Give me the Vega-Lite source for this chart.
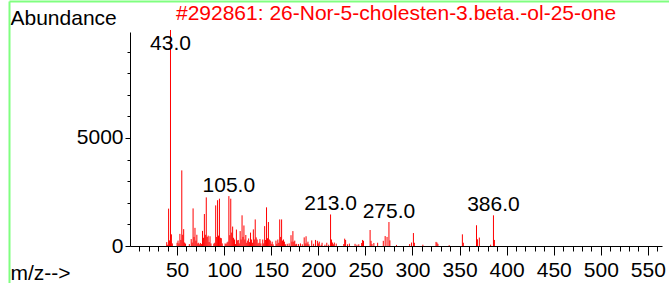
{
  "$schema": "https://vega.github.io/schema/vega-lite/v6.json",
  "width": 532,
  "height": 214,
  "autosize": {"type": "none"},
  "padding": {"left": 130, "top": 32, "right": 7, "bottom": 37},
  "background": "white",
  "config": {"view": {"stroke": null}, "font": "Liberation Sans"},
  "title": {"text": "#292861: 26-Nor-5-cholesten-3.beta.-ol-25-one", "color": "#ff0000", "fontSize": 21, "fontWeight": "normal", "anchor": "middle", "frame": "group", "baseline": "alphabetic", "offset": 8, "dy": 53},
  "data": {"values": [
    {"mz": 39, "ab": 180}, {"mz": 40, "ab": 60}, {"mz": 41, "ab": 1730}, {"mz": 42, "ab": 260}, {"mz": 43, "ab": 10000},
    {"mz": 44, "ab": 540}, {"mz": 45, "ab": 120}, {"mz": 50, "ab": 150}, {"mz": 51, "ab": 250}, {"mz": 52, "ab": 120},
    {"mz": 53, "ab": 560}, {"mz": 54, "ab": 280}, {"mz": 55, "ab": 3500}, {"mz": 56, "ab": 520}, {"mz": 57, "ab": 780},
    {"mz": 58, "ab": 160}, {"mz": 59, "ab": 110}, {"mz": 63, "ab": 90}, {"mz": 65, "ab": 320}, {"mz": 66, "ab": 160},
    {"mz": 67, "ab": 1740}, {"mz": 68, "ab": 420}, {"mz": 69, "ab": 840}, {"mz": 70, "ab": 250}, {"mz": 71, "ab": 520},
    {"mz": 72, "ab": 120}, {"mz": 73, "ab": 150}, {"mz": 74, "ab": 80}, {"mz": 75, "ab": 140}, {"mz": 76, "ab": 90},
    {"mz": 77, "ab": 700}, {"mz": 78, "ab": 380}, {"mz": 79, "ab": 1480}, {"mz": 80, "ab": 520}, {"mz": 81, "ab": 2250},
    {"mz": 82, "ab": 420}, {"mz": 83, "ab": 480}, {"mz": 84, "ab": 180}, {"mz": 85, "ab": 450}, {"mz": 86, "ab": 120},
    {"mz": 89, "ab": 110}, {"mz": 90, "ab": 150}, {"mz": 91, "ab": 1880}, {"mz": 92, "ab": 420}, {"mz": 93, "ab": 2120},
    {"mz": 94, "ab": 480}, {"mz": 95, "ab": 2190}, {"mz": 96, "ab": 380}, {"mz": 97, "ab": 360}, {"mz": 98, "ab": 120},
    {"mz": 101, "ab": 120}, {"mz": 102, "ab": 90}, {"mz": 103, "ab": 160}, {"mz": 104, "ab": 200}, {"mz": 105, "ab": 2310},
    {"mz": 106, "ab": 500}, {"mz": 107, "ab": 2190}, {"mz": 108, "ab": 620}, {"mz": 109, "ab": 900}, {"mz": 110, "ab": 380},
    {"mz": 111, "ab": 300}, {"mz": 112, "ab": 90}, {"mz": 113, "ab": 760}, {"mz": 114, "ab": 260}, {"mz": 115, "ab": 280},
    {"mz": 116, "ab": 120}, {"mz": 117, "ab": 690}, {"mz": 118, "ab": 300}, {"mz": 119, "ab": 1420}, {"mz": 120, "ab": 420},
    {"mz": 121, "ab": 950}, {"mz": 122, "ab": 300}, {"mz": 123, "ab": 510}, {"mz": 124, "ab": 150}, {"mz": 125, "ab": 250},
    {"mz": 126, "ab": 350}, {"mz": 127, "ab": 180}, {"mz": 128, "ab": 620}, {"mz": 129, "ab": 300}, {"mz": 130, "ab": 150},
    {"mz": 131, "ab": 770}, {"mz": 132, "ab": 300}, {"mz": 133, "ab": 1230}, {"mz": 134, "ab": 400}, {"mz": 135, "ab": 300},
    {"mz": 136, "ab": 120}, {"mz": 137, "ab": 150}, {"mz": 138, "ab": 320}, {"mz": 139, "ab": 120}, {"mz": 141, "ab": 300},
    {"mz": 142, "ab": 120}, {"mz": 143, "ab": 920}, {"mz": 144, "ab": 280}, {"mz": 145, "ab": 1790}, {"mz": 146, "ab": 360},
    {"mz": 147, "ab": 1110}, {"mz": 148, "ab": 300}, {"mz": 149, "ab": 250}, {"mz": 150, "ab": 100}, {"mz": 151, "ab": 200},
    {"mz": 152, "ab": 80}, {"mz": 155, "ab": 250}, {"mz": 156, "ab": 100}, {"mz": 157, "ab": 300}, {"mz": 158, "ab": 150},
    {"mz": 159, "ab": 1230}, {"mz": 160, "ab": 420}, {"mz": 161, "ab": 1230}, {"mz": 162, "ab": 250}, {"mz": 163, "ab": 300},
    {"mz": 164, "ab": 200}, {"mz": 165, "ab": 80}, {"mz": 167, "ab": 100}, {"mz": 169, "ab": 120}, {"mz": 171, "ab": 500},
    {"mz": 172, "ab": 200}, {"mz": 173, "ab": 690}, {"mz": 174, "ab": 200}, {"mz": 175, "ab": 250}, {"mz": 176, "ab": 80},
    {"mz": 177, "ab": 100}, {"mz": 179, "ab": 90}, {"mz": 181, "ab": 120}, {"mz": 183, "ab": 80}, {"mz": 185, "ab": 400},
    {"mz": 186, "ab": 120}, {"mz": 187, "ab": 450}, {"mz": 188, "ab": 120}, {"mz": 189, "ab": 200}, {"mz": 190, "ab": 80},
    {"mz": 193, "ab": 260}, {"mz": 195, "ab": 100}, {"mz": 197, "ab": 280}, {"mz": 199, "ab": 240}, {"mz": 200, "ab": 120},
    {"mz": 201, "ab": 200}, {"mz": 203, "ab": 60}, {"mz": 204, "ab": 150}, {"mz": 207, "ab": 60}, {"mz": 209, "ab": 150},
    {"mz": 211, "ab": 60}, {"mz": 213, "ab": 1460}, {"mz": 214, "ab": 300}, {"mz": 215, "ab": 160}, {"mz": 216, "ab": 80},
    {"mz": 217, "ab": 160}, {"mz": 219, "ab": 110}, {"mz": 227, "ab": 90}, {"mz": 228, "ab": 340}, {"mz": 229, "ab": 280},
    {"mz": 231, "ab": 80}, {"mz": 233, "ab": 110}, {"mz": 239, "ab": 100}, {"mz": 241, "ab": 60}, {"mz": 243, "ab": 80},
    {"mz": 246, "ab": 140}, {"mz": 247, "ab": 280}, {"mz": 248, "ab": 240}, {"mz": 255, "ab": 740}, {"mz": 256, "ab": 240},
    {"mz": 257, "ab": 90}, {"mz": 259, "ab": 140}, {"mz": 263, "ab": 150}, {"mz": 269, "ab": 240}, {"mz": 271, "ab": 460},
    {"mz": 273, "ab": 420}, {"mz": 275, "ab": 1110}, {"mz": 276, "ab": 260}, {"mz": 283, "ab": 50}, {"mz": 297, "ab": 90},
    {"mz": 299, "ab": 160}, {"mz": 301, "ab": 600}, {"mz": 302, "ab": 150}, {"mz": 311, "ab": 60}, {"mz": 325, "ab": 190},
    {"mz": 326, "ab": 160}, {"mz": 327, "ab": 100}, {"mz": 339, "ab": 40}, {"mz": 353, "ab": 540}, {"mz": 354, "ab": 150},
    {"mz": 368, "ab": 960}, {"mz": 369, "ab": 310}, {"mz": 371, "ab": 390}, {"mz": 383, "ab": 60}, {"mz": 386, "ab": 1420},
    {"mz": 387, "ab": 280}
  ]},
  "layer": [
    {
      "encoding": {
        "x": {"field": "mz", "type": "quantitative",
          "scale": {"domain": [0, 565], "nice": false, "zero": false},
          "axis": {
            "orient": "bottom",
            "values": [10,20,30,40,50,60,70,80,90,100,110,120,130,140,150,160,170,180,190,200,210,220,230,240,250,260,270,280,290,300,310,320,330,340,350,360,370,380,390,400,410,420,430,440,450,460,470,480,490,500,510,520,530,540,550,560],
            "tickSize": {"condition": {"test": "datum.value % 50 === 0", "value": 9}, "value": 5},
            "labelExpr": "datum.value % 50 === 0 ? datum.label : ''",
            "format": "d", "labelOverlap": false, "labelFlush": false,
            "labelFontSize": 21, "labelColor": "black", "labelPadding": 4,
            "domainColor": "black", "tickColor": "black", "grid": false,
            "title": "m/z-->", "titleX": -120, "titleY": 33, "titleAlign": "left", "titleBaseline": "alphabetic",
            "titleFontSize": 21, "titleFontWeight": "normal", "titleColor": "black"
          }},
        "y": {"field": "ab", "type": "quantitative",
          "scale": {"domain": [0, 9907], "nice": false},
          "axis": {
            "orient": "left",
            "values": [0,1000,2000,3000,4000,5000,6000,7000,8000,9000],
            "tickSize": {"condition": {"test": "datum.value % 5000 === 0", "value": 5}, "value": 3},
            "labelExpr": "datum.value % 5000 === 0 ? datum.label : ''",
            "format": "d", "labelOverlap": false, "labelFlush": false,
            "labelFontSize": 21, "labelColor": "black", "labelPadding": 2,
            "domainColor": "black", "tickColor": "black", "grid": false,
            "title": "Abundance", "titleAngle": 0, "titleX": -120, "titleY": -8, "titleAlign": "left", "titleBaseline": "alphabetic",
            "titleFontSize": 21, "titleFontWeight": "normal", "titleColor": "black"
          }}
      },
      "layer": [
        {
          "mark": {"type": "rule", "color": "#ff0000", "strokeWidth": 1},
          "encoding": {"y2": {"datum": 0}}
        },
        {
          "transform": [{"filter": {"field": "mz", "oneOf": [105, 213, 275, 386]}}],
          "mark": {"type": "text", "baseline": "alphabetic", "dy": -4, "fontSize": 21, "color": "black"},
          "encoding": {"text": {"field": "mz", "type": "quantitative", "format": ".1f"}}
        },
        {
          "transform": [{"filter": {"field": "mz", "equal": 43}}],
          "mark": {"type": "text", "baseline": "top", "dy": 3, "fontSize": 21, "color": "black"},
          "encoding": {"text": {"field": "mz", "type": "quantitative", "format": ".1f"}}
        }
      ]
    },
    {
      "mark": {"type": "point", "opacity": 0},
      "encoding": {
        "x": {"field": "mz", "type": "quantitative",
          "scale": {"domain": [0, 565], "nice": false, "zero": false, "range": [-121, 539]},
          "axis": {"orient": "top", "offset": 31, "domainColor": "#80ff80", "domainWidth": 2, "ticks": false, "labels": false, "grid": false, "title": null}},
        "y": {"field": "ab", "type": "quantitative",
          "scale": {"domain": [0, 9907], "nice": false, "range": [251, -31]},
          "axis": {"orient": "left", "offset": 121, "domainColor": "#80ff80", "domainWidth": 2, "ticks": false, "labels": false, "grid": false, "title": null}}
      }
    }
  ],
  "resolve": {"scale": {"x": "independent", "y": "independent"}, "axis": {"x": "independent", "y": "independent"}}
}
